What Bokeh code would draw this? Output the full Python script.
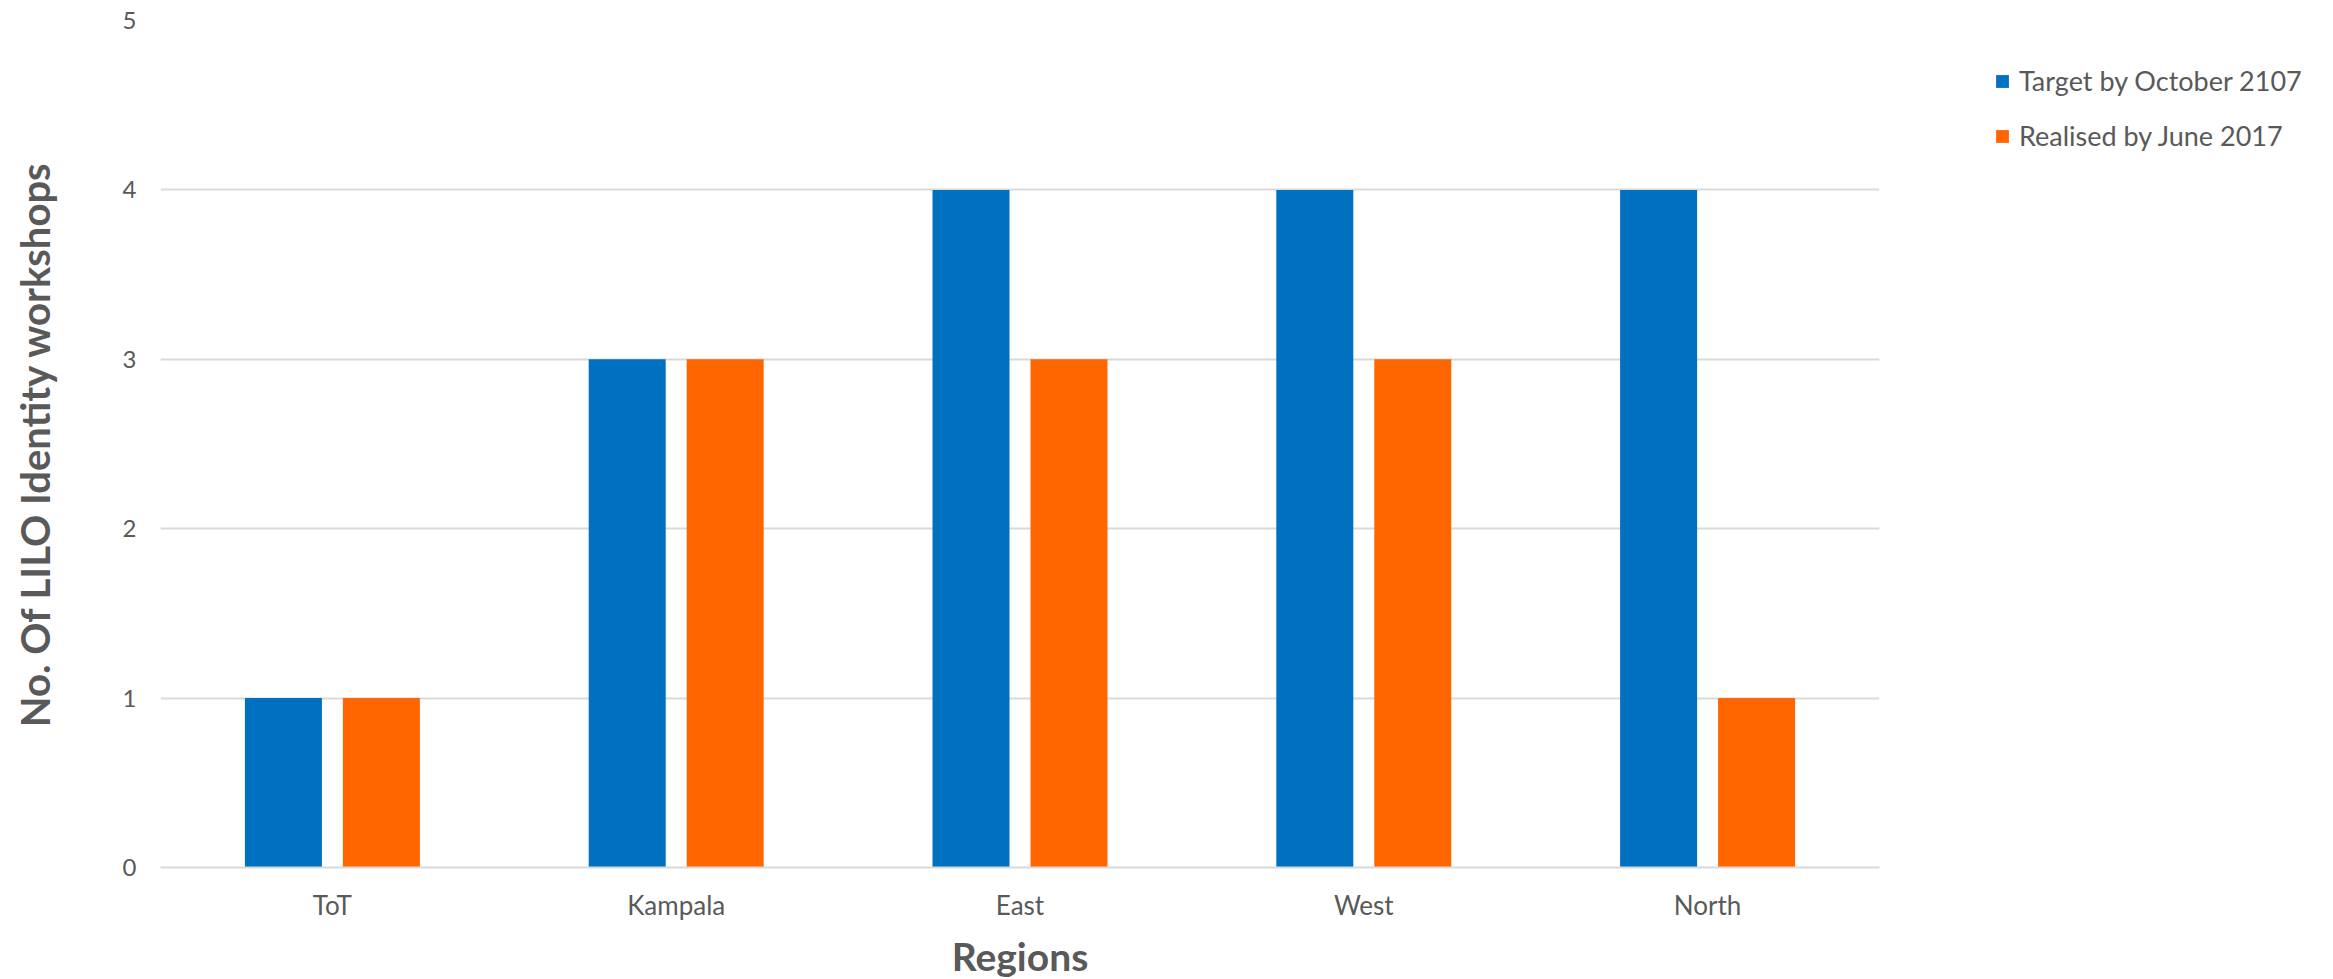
from bokeh.plotting import figure
from bokeh.models import FactorRange, ColumnDataSource, Legend, LegendItem
from bokeh.transform import dodge
from bokeh.embed import file_html
from bokeh.resources import INLINE

regions = ["ToT", "Kampala", "East", "West", "North"]
target = [1, 3, 4, 4, 4]
realised = [1, 3, 3, 3, 1]
series_names = ["Target by October 2107", "Realised by June 2017"]
colors = ["#0070C0", "#FF6600"]
y_ticks = [0, 1, 2, 3, 4, 5]

src = ColumnDataSource(dict(region=regions, target=target, realised=realised))

FONT = "Lato"
GREY = "#595959"

p = figure(x_range=FactorRange(*regions), y_range=(0, 5),
           frame_width=1719, frame_height=847, output_backend="svg", toolbar_location=None,
           min_border_left=160, min_border_right=440, min_border_top=20, min_border_bottom=110)

r1 = p.vbar(x=dodge("region", -0.1425, range=p.x_range), top="target", width=0.224,
            source=src, fill_color=colors[0], line_color=None)
r2 = p.vbar(x=dodge("region", 0.1425, range=p.x_range), top="realised", width=0.224,
            source=src, fill_color=colors[1], line_color=None)

p.outline_line_color = None
p.background_fill_color = "white"
p.border_fill_color = "white"

p.xgrid.grid_line_color = None
p.ygrid.grid_line_color = "#D9D9D9"
p.ygrid.grid_line_width = 2
p.yaxis.ticker = y_ticks

p.yaxis.axis_line_color = None
p.yaxis.major_tick_line_color = None
p.yaxis.minor_tick_line_color = None
p.yaxis.major_label_text_font = FONT
p.yaxis.major_label_text_font_size = "24px"
p.yaxis.major_label_text_color = GREY
p.yaxis.major_label_standoff = 18
p.yaxis.axis_label = "No. Of LILO Identity workshops"
p.yaxis.axis_label_text_font = FONT
p.yaxis.axis_label_text_font_style = "bold"
p.yaxis.axis_label_text_font_size = "40px"
p.yaxis.axis_label_text_color = GREY
p.yaxis.axis_label_standoff = 61

p.xaxis.axis_line_color = "#D9D9D9"
p.xaxis.axis_line_width = 2
p.xaxis.major_tick_line_color = None
p.xaxis.minor_tick_line_color = None
p.xaxis.major_label_text_font = FONT
p.xaxis.major_label_text_font_size = "26px"
p.xaxis.major_label_text_color = GREY
p.xaxis.major_label_standoff = 15
p.xaxis.axis_label = "Regions"
p.xaxis.axis_label_text_font = FONT
p.xaxis.axis_label_text_font_style = "bold"
p.xaxis.axis_label_text_font_size = "39px"
p.xaxis.axis_label_text_color = GREY
p.xaxis.axis_label_standoff = 9

legend = Legend(items=[LegendItem(label=series_names[0], renderers=[r1]),
                       LegendItem(label=series_names[1], renderers=[r2])],
                location=(115, 715), orientation="vertical",
                border_line_color=None, background_fill_alpha=0,
                padding=0, margin=0, glyph_width=16, glyph_height=16,
                label_height=30, spacing=22, label_standoff=9,
                label_text_font=FONT, label_text_font_size="27px",
                label_text_color=GREY)
p.add_layout(legend, "right")

open("out.html", "w").write(file_html(p, INLINE))
